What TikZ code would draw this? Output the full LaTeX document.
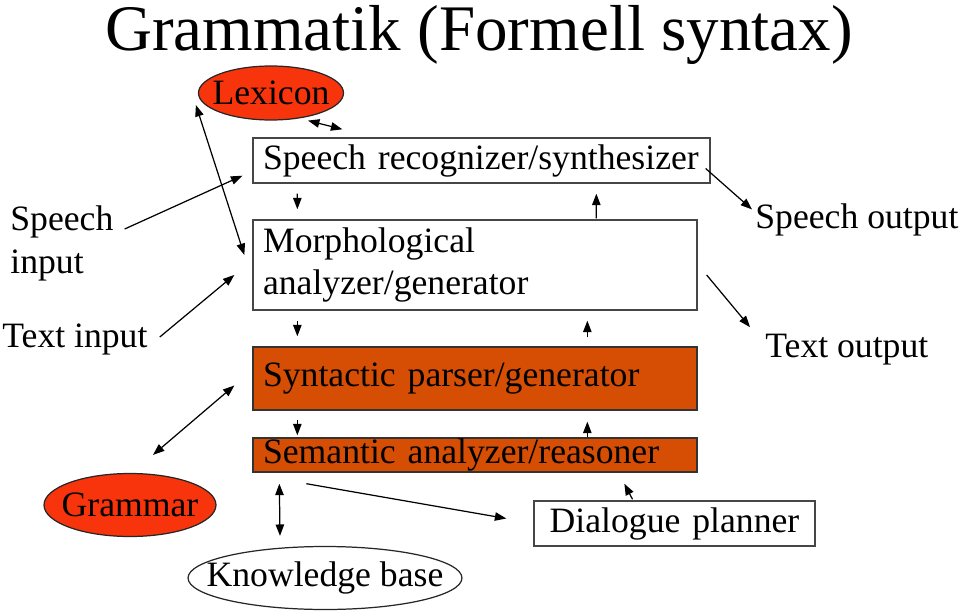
\documentclass[tikz,border=0pt]{standalone}
\usepackage{fontspec}
\setmainfont{Liberation Serif}
\usepackage{xcolor}
\definecolor{lexred}{RGB}{248,52,12}
\definecolor{rust}{RGB}{214,78,4}
\definecolor{framegray}{RGB}{70,70,70}
\usetikzlibrary{shapes.geometric, arrows.meta, calc}

\begin{document}
\begin{tikzpicture}[
    x=0.02cm, y=-0.02cm,
    >={Triangle[length=6.5pt,width=4.8pt]},
    font=\fontsize{20.3}{24.4}\selectfont,
    txt/.style={inner sep=0pt},
    boxnode/.style={draw=framegray, line width=0.8pt, rectangle, inner xsep=0.2cm, inner ysep=0pt, align=left, fill=white},
    rustbox/.style={boxnode, fill=rust, draw=black!80},
    ovalnode/.style={draw=black!85, line width=0.7pt, ellipse, inner xsep=-1cm, inner ysep=-0.4cm},
    arr/.style={->, line width=0.7pt}
  ]
  \useasboundingbox (0,0) rectangle (960,612);

  \node (title) [txt, anchor=base, font=\fontsize{37}{40}\selectfont] at (479,51) {Grammatik (Formell syntax)};

  % ovals
  \node (lex) [ovalnode, fill=lexred, minimum width=2.9cm, minimum height=1.08cm] at (271,93) {Lexicon};
  \node (gram) [ovalnode, fill=lexred, minimum width=3.44cm, minimum height=1.26cm] at (130,505) {Grammar};
  \node (kb) [ovalnode, fill=white, minimum width=5.48cm, minimum height=1.26cm] at (325,578) {Knowledge base};

  % processing chain
  \node (sr) [boxnode, text width=8.74cm, minimum height=0.9cm] at (481.5,160.5) {Speech recognizer/synthesizer};
  \node (mo) [boxnode, text width=8.48cm, minimum height=1.8cm] at (475,265) {Morphological\\analyzer/generator};
  \node (sy) [rustbox, text width=8.48cm, minimum height=1.26cm] at (475,378.5) {Syntactic parser/generator};
  \node (se) [rustbox, text width=8.48cm, minimum height=0.68cm] at (475,455) {Semantic analyzer/reasoner};
  \node (dp) [boxnode, align=center, text width=5.22cm, minimum height=0.9cm] at (674.5,523.5) {Dialogue planner};

  % inputs and outputs
  \node (sin) [txt, align=left, anchor=west] at (10,243) {Speech\\input};
  \node (tin) [txt, anchor=base west] at (2,347) {Text input};
  \node (sout) [txt, anchor=base west] at (755,228) {Speech output};
  \node (tout) [txt, anchor=base west] at (765,357) {Text output};

  \draw[arr, <->] ($(lex.south)+(37,0)$) -- ($(sr.north west)+(90,-8)$);
  \draw[arr, <->] ($(lex.west)+(-2,12)$) -- ($(mo.west)+(-8,-10)$);
  \draw[arr] ($(sin.east)+(11,-14)$) -- ($(sr.south west)+(-10,-8)$);
  \draw[arr] ($(tin.east)+(12,-2)$) -- ($(mo.west)+(-18,10)$);
  \draw[arr] ($(sr.east)+(-5,8)$) -- ($(sout.west)+(-3,-10)$);
  \draw[arr] ($(mo.east)+(9,10)$) -- ($(tout.west)+(-15,-22)$);

  % down the chain
  \draw[arr] ($(sr.south west)+(45,10)$) -- ($(mo.north west)+(45,-10)$);
  \draw[arr] ($(mo.south west)+(45,10)$) -- ($(sy.north west)+(45,-10)$);
  \draw[arr] ($(sy.south west)+(45,9)$) -- ($(se.north west)+(45,-2)$);
  % up the chain
  \draw[arr] ($(mo.north west)+(344,-1)$) -- ($(sr.south west)+(344,10)$);
  \draw[arr] ($(sy.north west)+(335,-9)$) -- ($(mo.south west)+(335,10)$);
  \draw[arr] ($(se.north west)+(335,0)$) -- ($(sy.south west)+(335,11)$);

  \draw[arr, <->] ($(gram.north)+(23,-18)$) -- ($(sy.west)+(-18,7)$);
  \draw[arr, <->] ($(se.south west)+(27,11)$) -- ($(kb.north)+(-45,-10)$);
  \draw[arr] ($(se.south west)+(54,11)$) -- ($(dp.west)+(-27,-5)$);
  \draw[arr] ($(dp.north)+(-42,-1)$) -- ($(se.south west)+(372,11)$);

\end{tikzpicture}
\end{document}
